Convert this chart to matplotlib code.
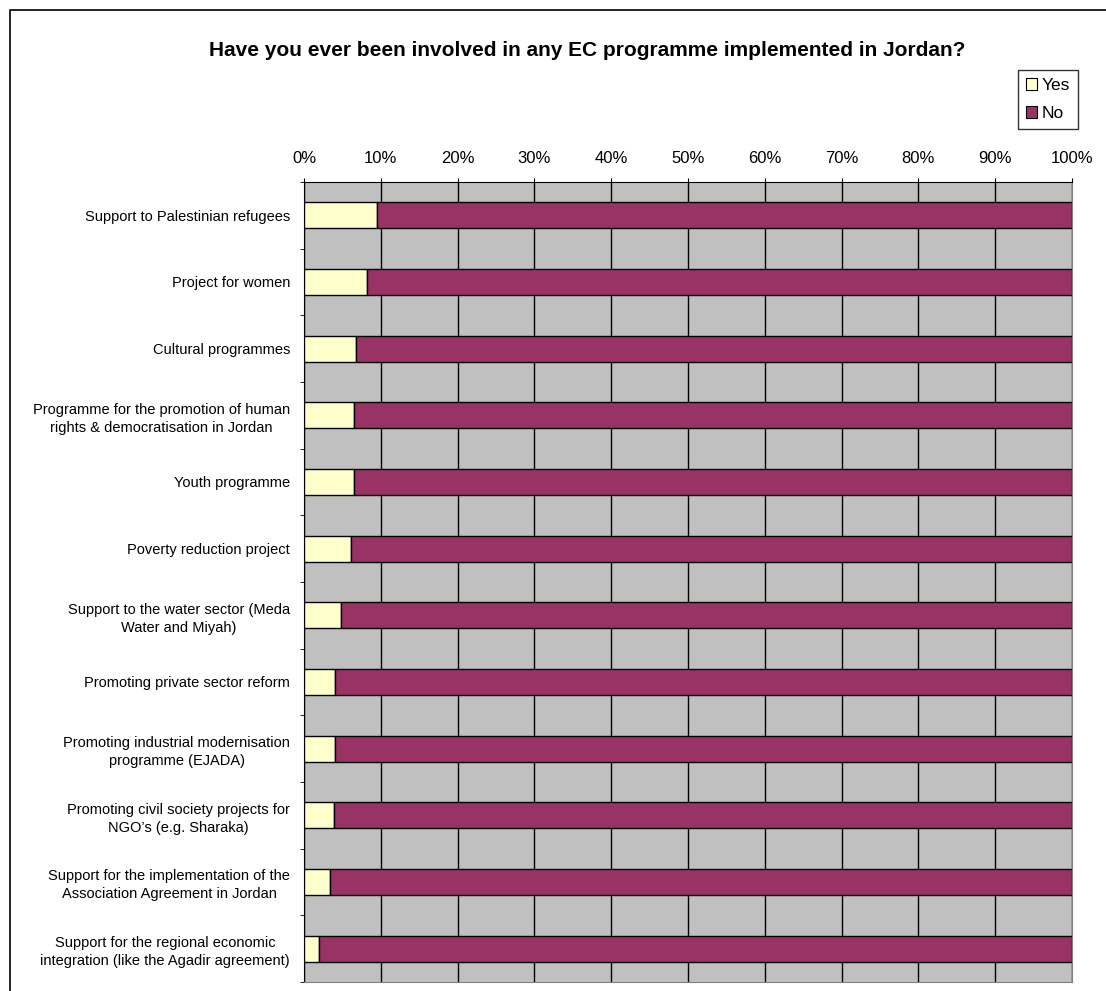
import matplotlib.pyplot as plt
from matplotlib.patches import Rectangle, Patch
import numpy as np

plt.rcParams['font.family'] = ['Liberation Sans', 'DejaVu Sans']

categories = [
    "Support to Palestinian refugees",
    "Project for women",
    "Cultural programmes",
    "Programme for the promotion of human\nrights & democratisation in Jordan",
    "Youth programme",
    "Poverty reduction project",
    "Support to the water sector (Meda\nWater and Miyah)",
    "Promoting private sector reform",
    "Promoting industrial modernisation\nprogramme (EJADA)",
    "Promoting civil society projects for\nNGO\u2019s (e.g. Sharaka)",
    "Support for the implementation of the\nAssociation Agreement in Jordan",
    "Support for the regional economic\nintegration (like the Agadir agreement)",
]
yes_pct = [9.5, 8.2, 6.8, 6.5, 6.5, 6.1, 4.8, 4.1, 4.1, 3.9, 3.4, 2.0]
no_pct = [100 - v for v in yes_pct]
x_ticks = list(range(0, 101, 10))
x_labels = [f"{t}%" for t in x_ticks]

W, H = 1106, 991
fig = plt.figure(figsize=(W / 100, H / 100), dpi=100)
ax = fig.add_axes([304 / W, 1 - 982 / H, (1072 - 304) / W, (982 - 182) / H])

# outer chart frame (cropped on the right/bottom)
fig.patches.append(Rectangle((10 / W, -0.05), 1.2, 1 - 10 / H + 0.05,
                             transform=fig.transFigure, fill=False,
                             edgecolor='black', linewidth=1.2))

ax.set_facecolor('#C0C0C0')
y = np.arange(len(categories))
ax.barh(y, yes_pct, height=0.39, color='#FFFFCC', edgecolor='black',
        linewidth=1, label='Yes', zorder=3)
ax.barh(y, no_pct, left=yes_pct, height=0.39, color='#993366',
        edgecolor='black', linewidth=1, label='No', zorder=3)

ax.set_xlim(0, 100)
ax.set_ylim(len(categories) - 0.5, -0.5)
ax.xaxis.tick_top()
ax.set_xticks(x_ticks)
ax.set_xticklabels(x_labels, fontsize=12)
ax.tick_params(axis='x', length=3, direction='out', color='black', pad=8.5)
ax.grid(axis='x', color='black', linewidth=1, zorder=1)

ax.set_yticks(y)
ax.set_yticklabels(categories, fontsize=10.5, ha='right', multialignment='center',
                   linespacing=1.35)
ax.tick_params(axis='y', which='major', length=0, pad=10)
ax.set_yticks(np.arange(len(categories) + 1) - 0.5, minor=True)
ax.tick_params(axis='y', which='minor', length=3, direction='out', color='black')

ax.spines['left'].set_color('black')
ax.spines['top'].set_color('black')
ax.spines['right'].set_color('#808080')
ax.spines['bottom'].set_color('#808080')

fig.text(587 / W, 1 - 50 / H,
         "Have you ever been involved in any EC programme implemented in Jordan?",
         ha='center', va='center', fontsize=15, fontweight='bold')

handles = [Patch(facecolor='#FFFFCC', edgecolor='black', linewidth=0.8, label='Yes'),
           Patch(facecolor='#993366', edgecolor='black', linewidth=0.8, label='No')]
leg = fig.legend(handles=handles, loc='upper right',
                 bbox_to_anchor=(1078 / W, 1 - 70 / H), fontsize=12.5,
                 frameon=True, fancybox=False, edgecolor='black',
                 handlelength=0.65, handleheight=0.65, handletextpad=0.25,
                 borderpad=0.45, labelspacing=0.75, borderaxespad=0)
leg.get_frame().set_linewidth(1)

fig.savefig('out.png', dpi=100, facecolor='white')
